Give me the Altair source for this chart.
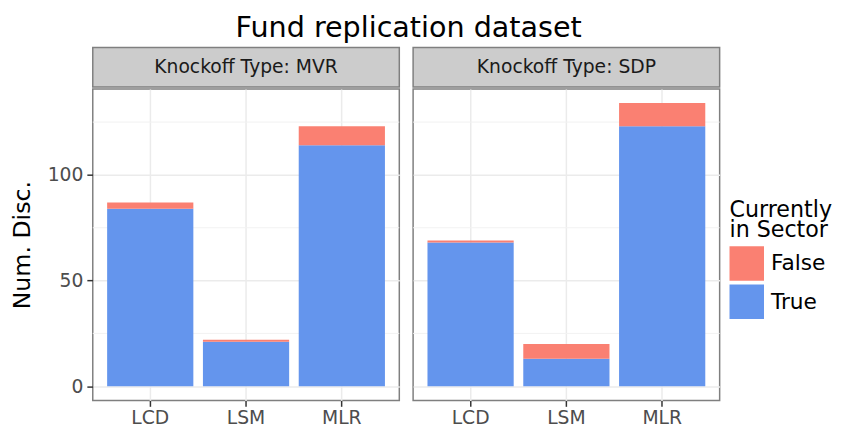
import altair as alt
import pandas as pd

# ---- data ----
methods = ["LCD", "LSM", "MLR"]
knockoff_types = ["MVR", "SDP"]
mvr_true = [84, 21, 114]
mvr_false = [3, 1, 9]
sdp_true = [68, 13, 123]
sdp_false = [1, 7, 11]
sector_levels = ["False", "True"]
sector_colors = ["#FA8072", "#6495ED"]
major_ticks = [0, 50, 100]
minor_ticks = [25, 75, 125]

rows = []
for kt, tv, fv in [("MVR", mvr_true, mvr_false), ("SDP", sdp_true, sdp_false)]:
    for m, t, f in zip(methods, tv, fv):
        rows.append({"knockoff": kt, "method": m, "sector": "True", "count": t, "ord": 0})
        rows.append({"knockoff": kt, "method": m, "sector": "False", "count": f, "ord": 1})
df = pd.DataFrame(rows)
minor_df = pd.DataFrame({"v": minor_ticks})

W = 311
H = 316
STRIP_H = 40
FONT = "DejaVu Sans"
TICK_FS = 19

yscale = alt.Scale(domain=[-6.7, 140.7], nice=False, zero=False)
xscale = alt.Scale(domain=methods, paddingInner=0.1, paddingOuter=0.15)


def y_axis(first):
    if first:
        return alt.Axis(values=major_ticks, grid=True, gridColor="#ebebeb", gridWidth=1.5,
                        tickColor="#333333", tickSize=6, tickWidth=1.5,
                        labelFontSize=TICK_FS, labelColor="#4d4d4d", labelPadding=4,
                        titleFontSize=24, titleFontWeight="normal", titleColor="black",
                        titlePadding=13, domain=False)
    return alt.Axis(values=major_ticks, grid=True, gridColor="#ebebeb", gridWidth=1.5,
                    labels=False, ticks=False, domain=False, labelPadding=0,
                    titlePadding=0)


def panel(kt, first):
    sub = df[df["knockoff"] == kt]
    if first:
        ygrid = alt.Y("v:Q", scale=yscale, axis=y_axis(True), title="Num. Disc.")
        ybar = alt.Y("count:Q", scale=yscale, stack="zero", axis=y_axis(True), title="Num. Disc.")
    else:
        ygrid = alt.Y("v:Q", scale=yscale, axis=y_axis(False), title=None)
        ybar = alt.Y("count:Q", scale=yscale, stack="zero", axis=y_axis(False), title=None)
    grid = alt.Chart(minor_df).mark_rule(color="#f2f2f2", strokeWidth=1).encode(y=ygrid)
    bars = alt.Chart(sub).mark_bar().encode(
        x=alt.X("method:N", scale=xscale, sort=methods, title=None,
                axis=alt.Axis(grid=True, gridColor="#ebebeb", gridWidth=1.5, labelAngle=0,
                              tickColor="#333333", tickSize=6, tickWidth=1.5,
                              labelFontSize=TICK_FS, labelColor="#4d4d4d", labelPadding=2,
                              domain=False)),
        y=ybar,
        color=alt.Color("sector:N", scale=alt.Scale(domain=sector_levels, range=sector_colors),
                        legend=alt.Legend(title=["Currently", "in Sector"], orient="none",
                                          legendX=646, legendY=154)),
        order=alt.Order("ord:Q"),
    )
    main = alt.layer(grid, bars).properties(
        width=W, height=H,
        view=alt.ViewBackground(fill="white", stroke="#7f7f7f", strokeWidth=1.5),
    )
    strip = alt.Chart(pd.DataFrame({"label": ["Knockoff Type: " + kt]})).mark_text(
        fontSize=TICK_FS, color="#1a1a1a", font=FONT
    ).encode(
        text="label:N", x=alt.value(W / 2), y=alt.value(STRIP_H / 2)
    ).properties(
        width=W, height=STRIP_H,
        view=alt.ViewBackground(fill="#cccccc", stroke="#7f7f7f", strokeWidth=1.5),
    )
    return alt.vconcat(strip, main, spacing=0)


chart = alt.hconcat(panel("MVR", True), panel("SDP", False), spacing=10).properties(
    title=alt.TitleParams("Fund replication dataset", fontSize=29, font=FONT,
                          fontWeight="normal", anchor="middle", dx=-13,
                          offset=4, color="black"),
    padding={"left": 1, "top": 3, "right": 0, "bottom": 5},
).configure(font=FONT).configure_legend(
    titleFontSize=22.5, labelFontSize=22, titleFontWeight="normal", titleColor="black",
    labelColor="black", symbolType="square", symbolSize=1225, symbolStrokeWidth=0,
    rowPadding=4, labelOffset=7, titleLineHeight=20, titlePadding=5,
)

chart.save("out.html", embed_options={"renderer": "svg", "actions": False})
